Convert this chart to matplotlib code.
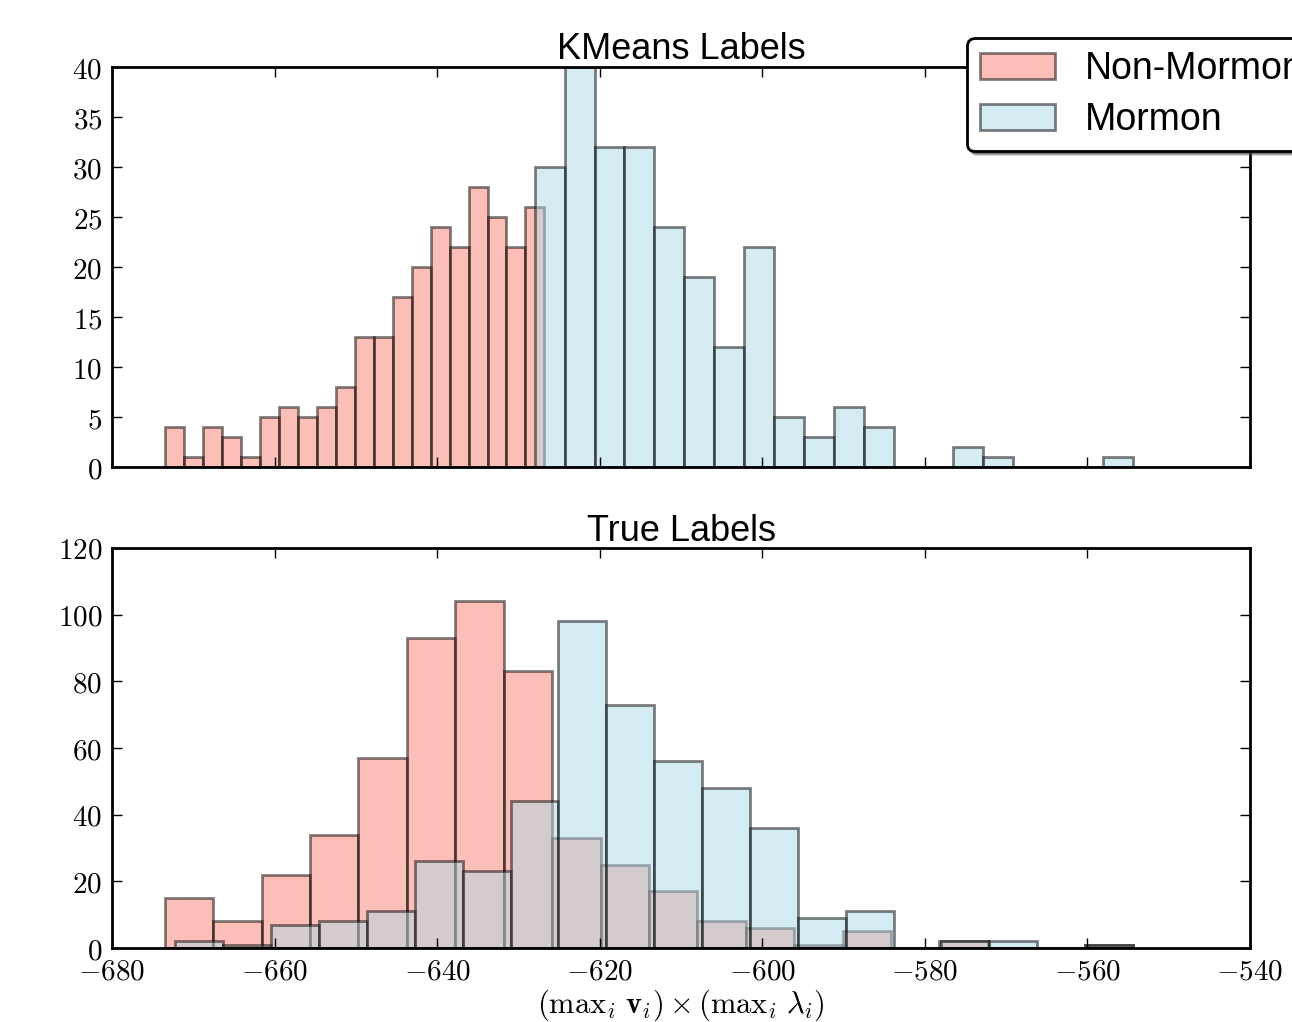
import numpy as np
import matplotlib
matplotlib.use('Agg')
import matplotlib.pyplot as plt
from matplotlib.ticker import FuncFormatter, MultipleLocator

plt.rcParams['font.family'] = ['Liberation Sans', 'DejaVu Sans']
plt.rcParams['mathtext.fontset'] = 'cm'

labels = ['Non-Mormon', 'Mormon']
colors = ['salmon', 'lightblue']

# KMeans labels: range and counts per bin (20 bins each)
km_non_range = (-673.5, -626.8)
km_non_counts = [4, 1, 4, 3, 1, 5, 6, 5, 6, 8, 13, 13, 17, 20, 24, 22, 28, 25, 22, 26]
km_mor_range = (-628.0, -554.4)
km_mor_counts = [30, 40, 32, 32, 24, 19, 12, 22, 5, 3, 6, 4, 0, 0, 2, 1, 0, 0, 0, 1]

# true labels
tr_non_range = (-673.5, -554.4)
tr_non_counts = [15, 8, 22, 34, 57, 93, 104, 83, 33, 25, 17, 8, 6, 1, 5, 0, 2, 0, 0, 1]
tr_mor_range = (-672.2, -554.4)
tr_mor_counts = [2, 1, 7, 8, 11, 26, 23, 44, 98, 73, 56, 48, 36, 9, 11, 0, 2, 2, 0, 1]

xticks = np.arange(-680, -539, 20)


def draw_hist(ax, rng, counts, color, label):
    edges = np.linspace(rng[0], rng[1], len(counts) + 1)
    ax.hist(edges[:-1], bins=edges, weights=counts, color=color, alpha=0.5,
            edgecolor='k', linewidth=2, label=label)


def style(ax):
    ax.tick_params(direction='in', length=7, width=1, top=True, right=True,
                   labelsize=21, pad=7)
    for s in ax.spines.values():
        s.set_linewidth(2)
    fmt = FuncFormatter(lambda v, p: '$%g$' % v)
    ax.xaxis.set_major_formatter(fmt)
    ax.yaxis.set_major_formatter(fmt)


fig = plt.figure(figsize=(12.92, 10.22), dpi=100)
ax1 = fig.add_axes([0.0867, 0.5430, 0.8808, 0.3914])
ax2 = fig.add_axes([0.0867, 0.0724, 0.8808, 0.3914], sharex=ax1)

draw_hist(ax1, km_non_range, km_non_counts, colors[0], labels[0])
draw_hist(ax1, km_mor_range, km_mor_counts, colors[1], labels[1])
draw_hist(ax2, tr_non_range, tr_non_counts, colors[0], labels[0])
draw_hist(ax2, tr_mor_range, tr_mor_counts, colors[1], labels[1])

ax1.set_xlim(-680, -540)
ax1.set_xticks(xticks)
ax1.set_ylim(0, 40)
ax1.yaxis.set_major_locator(MultipleLocator(5))
ax2.set_ylim(0, 120)
ax2.yaxis.set_major_locator(MultipleLocator(20))

for ax in (ax1, ax2):
    style(ax)
ax1.tick_params(labelbottom=False)

ax1.set_title('KMeans Labels', fontsize=26, pad=5)
ax2.set_title('True Labels', fontsize=26, pad=5)
ax2.set_xlabel(r'$(\mathrm{max}_i\ \mathbf{v}_i) \times (\mathrm{max}_i\ \lambda_i)$',
               fontsize=22, labelpad=1)

leg = ax1.legend(loc='upper left', bbox_to_anchor=(967 / 1292, 1 - 38 / 1022),
                 bbox_transform=fig.transFigure, fontsize=27, shadow=True,
                 fancybox=True, handlelength=2.0, handleheight=0.7,
                 borderpad=0.35, labelspacing=0.4, handletextpad=0.8,
                 borderaxespad=0)
leg.get_frame().set_edgecolor('k')
leg.get_frame().set_linewidth(2)
leg.get_frame().set_alpha(1)

fig.savefig('out.png', dpi=100)
